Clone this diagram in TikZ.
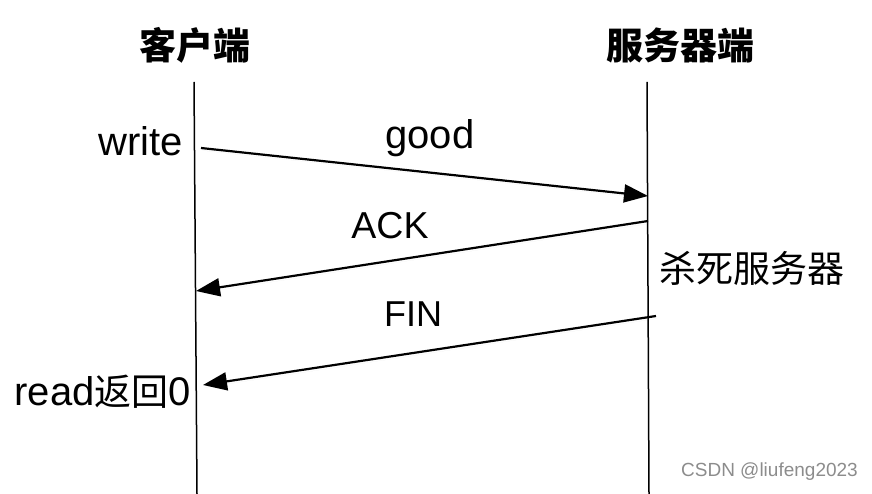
\documentclass[tikz,border=0pt]{standalone}
\usepackage{fontspec}
\setmainfont{Liberation Sans}
\newfontfamily\cjk{Noto Sans CJK SC}
\usetikzlibrary{arrows.meta,shadows}
\tikzset{
  life/.style={line width=1.5pt},
  msg/.style={line width=2.2pt,-{Triangle[length=24pt,width=18pt]},
    drop shadow={shadow xshift=1.5pt,shadow yshift=-2.5pt,opacity=0.25}},
  lbl/.style={inner sep=0pt,font=\fontsize{36}{40}\selectfont},
  lblw/.style={inner sep=0pt,font=\fontsize{40}{44}\selectfont},
  head/.style={inner sep=0pt,font=\cjk\bfseries\fontsize{37}{40}\selectfont},
  wmark/.style={inner sep=0pt,text=black!45,font=\fontsize{19}{22}\selectfont}
}
\begin{document}
\begin{tikzpicture}[x=1pt,y=-1pt]
\useasboundingbox (0,0) rectangle (872,494);
% lifelines
\coordinate (ct) at (194,82);
\coordinate (cb) at (197,494);
\coordinate (st) at (647,82);
\coordinate (sb) at (649,494);
\draw[life] (ct) -- (cb);
\draw[life] (st) -- (sb);
% headers
\node[head] (hc) at (195,45) {客户端};
\node[head] (hs) at (680,45) {服务器端};
% message endpoints
\coordinate (a1) at (201,148);
\coordinate (b1) at (648,196);
\coordinate (a2) at (648,221);
\coordinate (b2) at (196,291);
\coordinate (a3) at (656,316);
\coordinate (b3) at (203,385);
\draw[msg] (a1) -- (b1);
\draw[msg] (a2) -- (b2);
\draw[msg] (a3) -- (b3);
% labels
\node[lblw,anchor=east] (lw) at (183,141) {write};
\node[lblw] (lg) at (430,138) {good};
\node[lbl,font=\fontsize{37.5}{40}\selectfont] (la) at (390,226) {ACK};
\node[lbl,anchor=west,font=\cjk\fontsize{37}{40}\selectfont] (lk) at (659,268) {杀死服务器};
\node[lbl] (lf) at (413,314) {FIN};
\node[lblw,anchor=east] (lr) at (191,392) {read{\cjk\fontsize{37}{40}\selectfont 返回}0};
\node[wmark,anchor=east] (wm) at (858,472) {CSDN @liufeng2023};
\end{tikzpicture}
\end{document}
